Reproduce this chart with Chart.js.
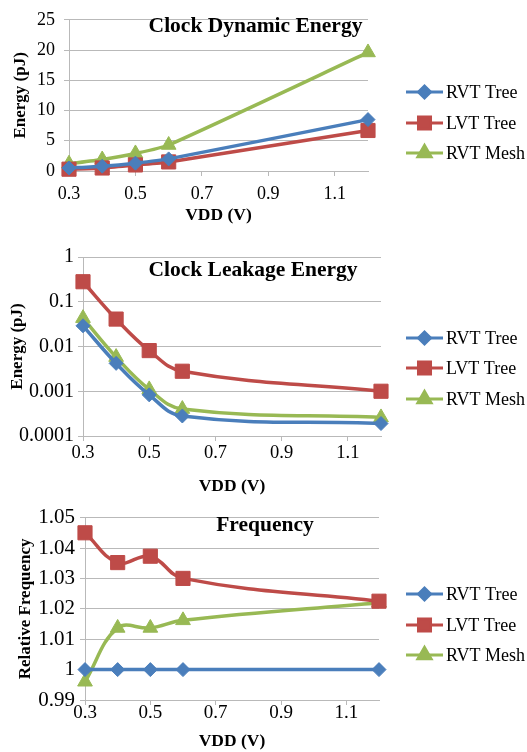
<!DOCTYPE html>
<html>
<head>
<meta charset="utf-8">
<script src="https://cdn.jsdelivr.net/npm/chart.js@4"></script>
<style>
    html, body { margin: 0; padding: 0; background: #fff; }
    .panel { position: absolute; left: 0; width: 527px; }
</style>
</head>
<body>
<div class="panel" style="top:0px;"><canvas id="dynChart" width="527" height="232"></canvas></div>
<div class="panel" style="top:240px;"><canvas id="leakChart" width="527" height="260"></canvas></div>
<div class="panel" style="top:500px;"><canvas id="freqChart" width="527" height="252"></canvas></div>
<script>
// --- Data ---
const vdd = [0.3, 0.4, 0.5, 0.6, 1.2];
const seriesNames = ['RVT Tree', 'LVT Tree', 'RVT Mesh'];

const dynRvtTree = [0.5, 0.8, 1.3, 2.0, 8.5];
const dynLvtTree = [0.3, 0.5, 1.0, 1.5, 6.7];
const dynRvtMesh = [1.2, 1.9, 2.9, 4.3, 19.6];

const leakRvtTree = [0.029, 0.0042, 0.00083, 0.00028, 0.00019];
const leakLvtTree = [0.28, 0.041, 0.0081, 0.0028, 0.001];
const leakRvtMesh = [0.043, 0.0058, 0.0011, 0.0004, 0.00026];

const freqRvtTree = [1, 1, 1, 1, 1];
const freqLvtTree = [1.045, 1.0352, 1.0373, 1.030, 1.0225];
const freqRvtMesh = [0.996, 1.0137, 1.0137, 1.0162, 1.022];

const xTicks = [0.3, 0.5, 0.7, 0.9, 1.1];
const dynTicks = [0, 5, 10, 15, 20, 25];
const leakTicks = [0.0001, 0.001, 0.01, 0.1, 1];
const freqTicks = [0.99, 1, 1.01, 1.02, 1.03, 1.04, 1.05];

// --- Styles ---
const SERIF = "'Liberation Serif', 'Times New Roman', serif";
const COLORS = ['#4a7ebb', '#be4b48', '#98b954'];
const MARKERS = [
    { style: 'rectRot', radius: 7, legendRadius: 6 },
    { style: 'rect', radius: 10, legendRadius: 8.5 },
    { style: 'triangle', radius: 8.5, legendRadius: 7.5 }
];
const GRID = '#b9b9b9';

function buildDatasets(values, tension) {
    return values.map((vals, i) => ({
        label: seriesNames[i],
        data: vals.map((v, j) => ({ x: vdd[j], y: v })),
        borderColor: COLORS[i],
        backgroundColor: COLORS[i],
        borderWidth: 3.5,
        pointStyle: MARKERS[i].style,
        pointRadius: MARKERS[i].radius,
        pointBorderWidth: 1,
        pointHoverRadius: MARKERS[i].radius,
        tension: tension,
        clip: false
    }));
}

// Excel-like legend (line + marker) and title inside the plot
const excelDecor = {
    id: 'excelDecor',
    afterDraw(chart, args, opts) {
        const ctx = chart.ctx;
        ctx.save();
        // inner title
        ctx.font = 'bold 21.5px ' + SERIF;
        ctx.fillStyle = '#000';
        ctx.textAlign = 'center';
        ctx.textBaseline = 'middle';
        ctx.fillText(opts.title, opts.titleX, opts.titleY);
        // legend
        chart.data.datasets.forEach((ds, i) => {
            const y = opts.legendY[i];
            ctx.strokeStyle = ds.borderColor;
            ctx.lineWidth = 3;
            ctx.beginPath();
            ctx.moveTo(406, y);
            ctx.lineTo(443, y);
            ctx.stroke();
            ctx.fillStyle = ds.borderColor;
            Chart.helpers.drawPoint(ctx, {
                pointStyle: MARKERS[i].style, radius: MARKERS[i].legendRadius,
                rotation: 0, borderWidth: 1
            }, 424.5, y);
            ctx.fillStyle = '#000';
            ctx.font = '18px ' + SERIF;
            ctx.textAlign = 'left';
            ctx.textBaseline = 'middle';
            ctx.fillText(ds.label, 446, y + 1);
        });
        ctx.restore();
    }
};

function makeChart(id, p) {
    const canvas = document.getElementById(id);
    const H = canvas.height;
    return new Chart(canvas, {
        type: 'line',
        data: { datasets: buildDatasets(p.series, p.tension) },
        options: {
            responsive: false,
            animation: false,
            events: [],
            layout: { padding: { left: 0, top: p.area.top, right: 527 - p.area.right, bottom: 0 } },
            plugins: {
                legend: { display: false },
                tooltip: { enabled: false },
                excelDecor: { title: p.title, titleX: p.titleX, titleY: p.titleY, legendY: p.legendY }
            },
            scales: {
                x: {
                    type: 'linear',
                    min: 0.3,
                    max: 1.2,
                    afterBuildTicks: s => { s.ticks = xTicks.map(v => ({ value: v })); },
                    afterFit: s => { s.height = H - p.area.bottom; },
                    grid: { drawOnChartArea: false, drawTicks: true, tickLength: 5, color: GRID },
                    border: { display: true, color: GRID, width: 1 },
                    ticks: {
                        color: '#000', padding: p.xTickPad, maxRotation: 0,
                        font: { family: SERIF, size: p.xTickSize },
                        callback: v => String(v)
                    },
                    title: {
                        display: true, text: 'VDD (V)', color: '#000',
                        font: { family: SERIF, size: 17.5, weight: 'bold' },
                        padding: { top: 0, bottom: p.xTitlePad }
                    }
                },
                y: {
                    type: p.yType,
                    min: p.yTicks[0],
                    max: p.yTicks[p.yTicks.length - 1],
                    afterBuildTicks: s => { s.ticks = p.yTicks.map(v => ({ value: v })); },
                    afterFit: s => { s.width = p.area.left; },
                    grid: { drawTicks: true, tickLength: 5, color: GRID },
                    border: { display: true, color: GRID, width: 1 },
                    ticks: {
                        color: '#000', padding: p.yTickPad,
                        font: { family: SERIF, size: p.yTickSize },
                        callback: v => String(v)
                    },
                    title: {
                        display: true, text: p.yTitle, color: '#000',
                        font: { family: SERIF, size: 17, weight: 'bold' },
                        padding: { top: p.yTitlePad, bottom: 0 }
                    }
                }
            }
        },
        plugins: [excelDecor]
    });
}

// --- Clock Dynamic Energy ---
makeChart('dynChart', {
    series: [dynRvtTree, dynLvtTree, dynRvtMesh], tension: 0.2,
    area: { left: 69, right: 368, top: 15, bottom: 171 },
    yType: 'linear', yTicks: dynTicks, yTitle: 'Energy (pJ)',
    title: 'Clock Dynamic Energy', titleX: 255.5, titleY: 26,
    legendY: [92, 123, 153],
    xTickSize: 18, yTickSize: 18, xTickPad: 7, yTickPad: 9, yTitlePad: 10, xTitlePad: 6
});

// --- Clock Leakage Energy ---
makeChart('leakChart', {
    series: [leakRvtTree, leakLvtTree, leakRvtMesh], tension: 0.4,
    area: { left: 83, right: 381, top: 17, bottom: 196 },
    yType: 'logarithmic', yTicks: leakTicks, yTitle: 'Energy (pJ)',
    title: 'Clock Leakage Energy', titleX: 253, titleY: 30,
    legendY: [98, 128, 159],
    xTickSize: 18.5, yTickSize: 20, xTickPad: 1, yTickPad: 4, yTitlePad: 7, xTitlePad: 3
});

// --- Frequency ---
makeChart('freqChart', {
    series: [freqRvtTree, freqLvtTree, freqRvtMesh], tension: 0.4,
    area: { left: 85, right: 379, top: 14, bottom: 200 },
    yType: 'linear', yTicks: freqTicks, yTitle: 'Relative Frequency',
    title: 'Frequency', titleX: 265, titleY: 25,
    legendY: [94, 125, 155],
    xTickSize: 19, yTickSize: 21, xTickPad: -3, yTickPad: 5, yTitlePad: 15, xTitlePad: 0
});
</script>
</body>
</html>
